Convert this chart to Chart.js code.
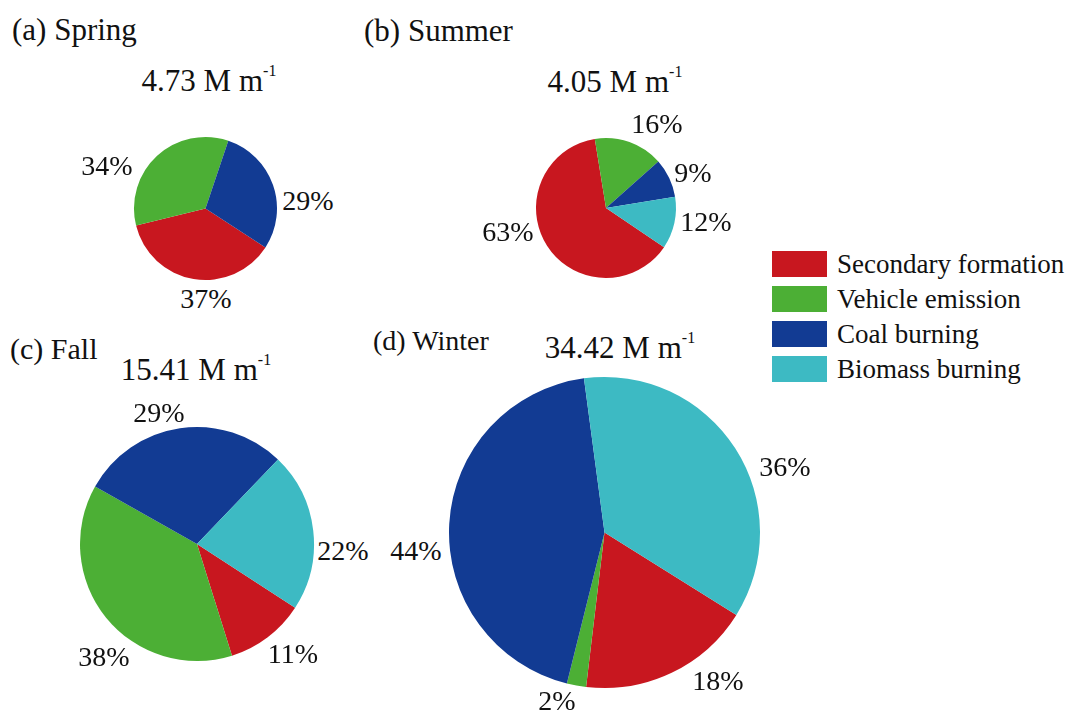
<!DOCTYPE html>
<html>
<head>
<meta charset="utf-8">
<script src="https://cdn.jsdelivr.net/npm/chart.js@4/dist/chart.umd.min.js"></script>
<style>
  html, body { margin: 0; padding: 0; background: #ffffff; }
  #stage { position: relative; width: 1074px; height: 716px; overflow: hidden; background: #ffffff;
           font-family: "Liberation Serif", "Times New Roman", serif; color: #111111; }
  canvas { position: absolute; }
  .txt { position: absolute; line-height: 0; white-space: nowrap; height: 0; }
  .sup { position: relative; top: -15px; font-size: 16px; }
  .swatch { position: absolute; width: 55px; height: 26px; }
</style>
</head>
<body>
<div id="stage"></div>
<script>
// Source categories (legend order) and their colours
const categories = ['Secondary formation', 'Vehicle emission', 'Coal burning', 'Biomass burning'];
const colors = ['#c8171f', '#4caf35', '#123b93', '#3dbac3'];

// Seasons, panel titles and total extinction values (M m^-1)
const seasons = ['(a) Spring', '(b) Summer', '(c) Fall', '(d) Winter'];
const totals = ['4.73', '4.05', '15.41', '34.42'];

// Source contributions per season (%), in category order
const spring = [37, 34, 29, 0];
const summer = [63, 16, 9, 12];
const fall   = [11, 38, 29, 22];
const winter = [18, 2, 44, 36];
const shares = [spring, summer, fall, winter];

// Panel layout: pie centre/radius, start angle, title & total anchors, label anchors per category
const layout = [
  { cx: 205, cy: 208, r: 71.5, rot: 123,
    title: [12, 30, 31], total: [209, 81],
    labels: [[206, 299], [107, 166], [308, 201], null] },
  { cx: 605.5, cy: 208, r: 70, rot: 124,
    title: [364, 31, 31], total: [615, 82],
    labels: [[508, 232], [657, 124], [693, 173], [706, 222]] },
  { cx: 196.5, cy: 544, r: 117, rot: 123,
    title: [10, 349, 30], total: [196, 370],
    labels: [[293, 654], [104, 657], [159, 413], [343, 551]] },
  { cx: 604.5, cy: 532, r: 155.5, rot: 122,
    title: [373, 341, 28], total: [620, 348],
    labels: [[718, 681], [557, 701], [416, 551], [785, 467]] }
];

const stage = document.getElementById('stage');

function addText(html, x, y, size, align) {
  const d = document.createElement('div');
  d.className = 'txt';
  d.innerHTML = html;
  d.style.fontSize = size + 'px';
  d.style.top = y + 'px';
  d.style.left = x + 'px';
  if (align === 'center') d.style.transform = 'translateX(-50%)';
  stage.appendChild(d);
  return d;
}

seasons.forEach((name, i) => {
  const L = layout[i];
  const pad = 2;
  const size = Math.round(2 * L.r) + 2 * pad;
  const cv = document.createElement('canvas');
  cv.width = size; cv.height = size;
  cv.style.width = size + 'px'; cv.style.height = size + 'px';
  cv.style.left = (L.cx - size / 2) + 'px';
  cv.style.top = (L.cy - size / 2) + 'px';
  stage.appendChild(cv);

  new Chart(cv, {
    type: 'pie',
    data: {
      labels: categories,
      datasets: [{
        data: shares[i],
        backgroundColor: colors,
        borderWidth: 0,
        hoverOffset: 0
      }]
    },
    options: {
      responsive: false,
      devicePixelRatio: 1,
      animation: false,
      rotation: L.rot,
      layout: { padding: pad },
      plugins: { legend: { display: false }, tooltip: { enabled: false } },
      events: []
    }
  });

  // Panel title and total
  addText(name, L.title[0], L.title[1], L.title[2], 'left');
  addText(totals[i] + ' M m<span class="sup">-1</span>', L.total[0], L.total[1], 31, 'center');

  // Percentage labels
  shares[i].forEach((v, k) => {
    const p = L.labels[k];
    if (v > 0 && p) addText(v + '%', p[0], p[1], 28, 'center');
  });
});

// Legend
const legendRows = [264, 299, 333.5, 368.5];
categories.forEach((c, k) => {
  const s = document.createElement('div');
  s.className = 'swatch';
  s.style.left = '772px';
  s.style.top = (legendRows[k] - 13) + 'px';
  s.style.background = colors[k];
  stage.appendChild(s);
  addText(c, 837, legendRows[k], 27, 'left');
});
</script>
</body>
</html>
